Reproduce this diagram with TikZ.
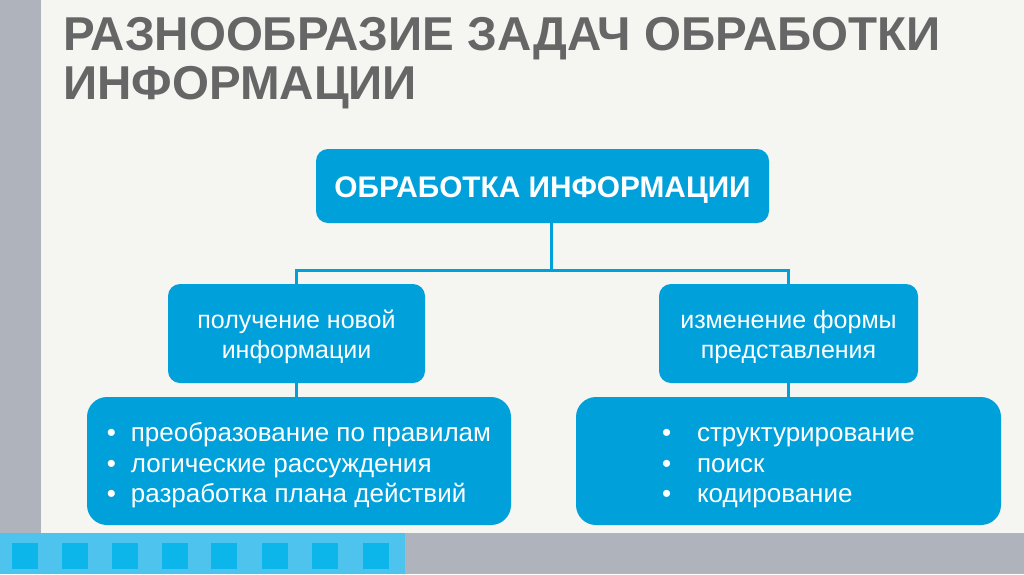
\documentclass[tikz,border=0pt]{standalone}
\usepackage{fontspec}
\setmainfont{Liberation Sans}
\definecolor{pagebg}{RGB}{245,246,242}
\definecolor{sidegray}{RGB}{175,180,188}
\definecolor{stripblue}{RGB}{78,195,238}
\definecolor{squareblue}{RGB}{12,181,234}
\definecolor{boxblue}{RGB}{0,160,218}
\definecolor{headgray}{RGB}{102,102,102}
\newcommand{\firstline}{\rule{0pt}{25pt}}
\newcommand{\firstitem}{\rule{0pt}{28pt}}
\begin{document}
\begin{tikzpicture}[x=1pt,y=-1pt,
    task node/.style={rounded corners=12pt,fill=boxblue,text=white,inner sep=0pt,align=center},
    list node/.style={task node,rounded corners=20pt,align=left},
    link/.style={draw=boxblue,line width=3pt}]
    % background and frame
    \fill[pagebg] (0,0) rectangle (1024,574);
    \fill[sidegray] (0,0) rectangle (41,533);
    \fill[stripblue] (0,533) rectangle (405,574);
    \fill[sidegray] (405,533) rectangle (1024,574);
    \foreach \x in {12,62,112,162,211,262,312,363}
        \fill[squareblue] (\x,543) rectangle ++(26,26);

    \node[anchor=north west,align=left,text=headgray,inner sep=0pt,
        font=\bfseries\fontsize{47.5}{49}\selectfont] (title) at (63,17)
        {РАЗНООБРАЗИЕ ЗАДАЧ ОБРАБОТКИ\\ИНФОРМАЦИИ};

    \node[task node,minimum width=453,minimum height=74,text height=22pt,text depth=0pt,
        font=\bfseries\fontsize{29.8}{30}\selectfont] (top) at (542.5,186) {ОБРАБОТКА ИНФОРМАЦИИ};
    \node[task node,minimum width=257,minimum height=99,font=\fontsize{25}{29.5}\selectfont] (get) at (296.5,333.5)
        {\firstline получение новой\\информации};
    \node[task node,minimum width=259,minimum height=99,font=\fontsize{25}{29.5}\selectfont] (change) at (788.5,333.5)
        {\firstline изменение формы\\представления};
    \node[list node,minimum width=424,minimum height=128,font=\fontsize{26}{30.5}\selectfont] (rules) at (299,461)
        {\firstitem\makebox[24pt][l]{•}преобразование по правилам\\
         \makebox[24pt][l]{•}логические рассуждения\\
         \makebox[24pt][l]{•}разработка плана действий};
    \node[list node,minimum width=425,minimum height=128,font=\fontsize{26}{30.5}\selectfont] (forms) at (788.5,461)
        {\firstitem\makebox[35pt][l]{•}структурирование\\
         \makebox[35pt][l]{•}поиск\\
         \makebox[35pt][l]{•}кодирование};

    \coordinate (split) at (551.5,270);
    \draw[link] (top.south -| split) -- (split) -| (get.north);
    \draw[link] (split) -| (change.north);
    \draw[link] (get.south) -- (get.south |- rules.north);
    \draw[link] (change.south) -- (change.south |- forms.north);
\end{tikzpicture}
\end{document}
